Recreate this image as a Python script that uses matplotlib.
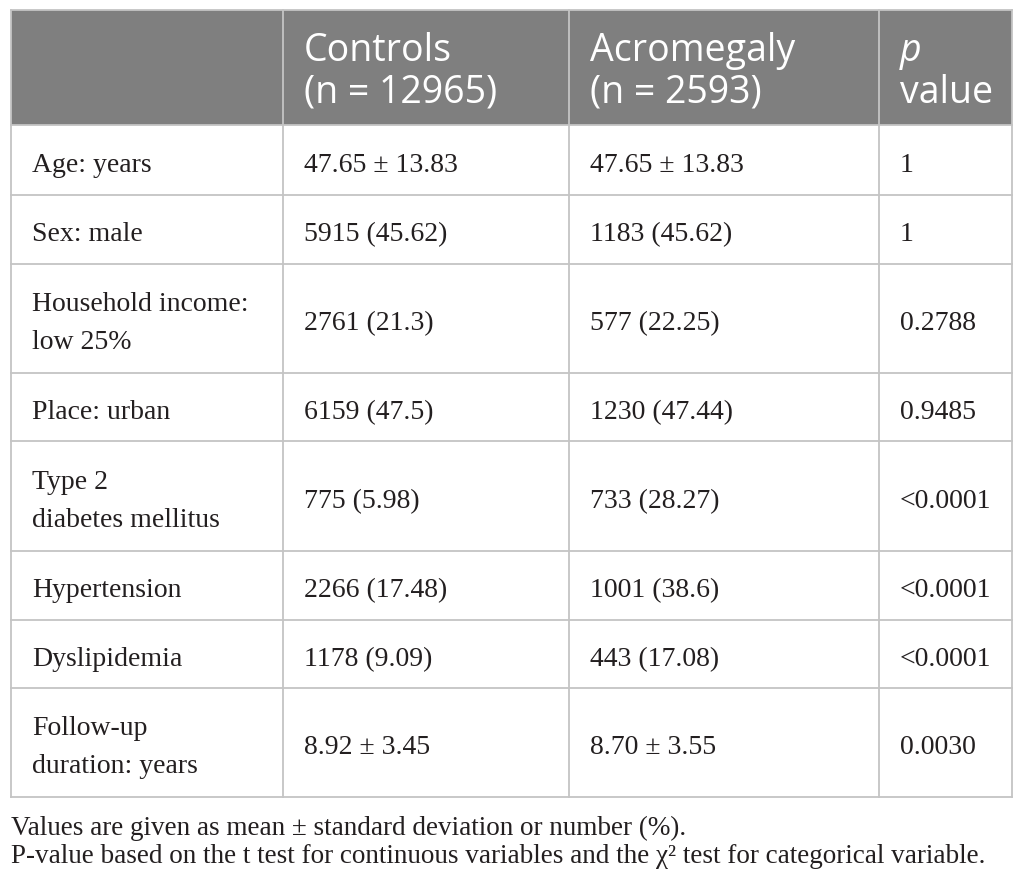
import matplotlib.pyplot as plt
from matplotlib.patches import Rectangle

# Table content
header = ["", "Controls\n(n = 12965)", "Acromegaly\n(n = 2593)", "p\nvalue"]
row_labels = ["Age: years", "Sex: male", "Household income:\nlow 25%", "Place: urban",
              "Type 2\ndiabetes mellitus", "Hypertension", "Dyslipidemia",
              "Follow-up\nduration: years"]
controls = ["47.65 ± 13.83", "5915 (45.62)", "2761 (21.3)", "6159 (47.5)",
            "775 (5.98)", "2266 (17.48)", "1178 (9.09)", "8.92 ± 3.45"]
acromegaly = ["47.65 ± 13.83", "1183 (45.62)", "577 (22.25)", "1230 (47.44)",
              "733 (28.27)", "1001 (38.6)", "443 (17.08)", "8.70 ± 3.55"]
p_values = ["1", "1", "0.2788", "0.9485", "<0.0001", "<0.0001", "<0.0001", "0.0030"]
footnotes = ["Values are given as mean ± standard deviation or number (%).",
             "P-value based on the t test for continuous variables and the χ² test for categorical variable."]

# Layout (pixels)
W, H = 1025, 887
col_x = [11, 283, 569, 879, 1012]
row_y = [11, 126, 196, 265, 374, 442, 552, 621, 689, 798]
pad = 21
grid_col = "#c4c4c4"
head_bg = "#7f7f7f"
text_col = "#231f20"
serif = "Liberation Serif"
sans = "Open Sans"

fig = plt.figure(figsize=(W / 100, H / 100), dpi=100)
ax = fig.add_axes([0, 0, 1, 1])
ax.set_xlim(0, W)
ax.set_ylim(H, 0)
ax.axis("off")

# header background
ax.add_patch(Rectangle((col_x[0], row_y[0]), col_x[-1] - col_x[0], row_y[1] - row_y[0],
                       facecolor=head_bg, edgecolor="none"))

# grid lines
for y in row_y:
    ax.plot([col_x[0], col_x[-1]], [y, y], color=grid_col, lw=1.3)
for x in col_x:
    ax.plot([x, x], [row_y[0], row_y[-1]], color=grid_col, lw=1.3)

# header text (two lines per cell, drawn on baselines)
head_base = [61, 103]
for j, txt in enumerate(header):
    if not txt:
        continue
    for k, line in enumerate(txt.split("\n")):
        style = "italic" if (j == 3 and k == 0) else "normal"
        ax.text(col_x[j] + pad, head_base[k], line, fontsize=27, family=sans,
                style=style, color="white", ha="left", va="baseline")

# body
for i in range(len(row_labels)):
    yc = (row_y[i + 1] + row_y[i + 2]) / 2 + 11
    cells = [row_labels[i], controls[i], acromegaly[i], p_values[i]]
    for j, txt in enumerate(cells):
        lines = txt.split("\n")
        n = len(lines)
        for k, line in enumerate(lines):
            y = yc + (k - (n - 1) / 2) * 38
            ax.text(col_x[j] + pad, y, line, fontsize=20, family=serif, color=text_col,
                    ha="left", va="baseline")

# footnotes
for k, note in enumerate(footnotes):
    ax.text(col_x[0], 835 + 28 * k, note, fontsize=19.5, family=serif, color=text_col,
            ha="left", va="baseline")

fig.savefig("out.png", dpi=100)
